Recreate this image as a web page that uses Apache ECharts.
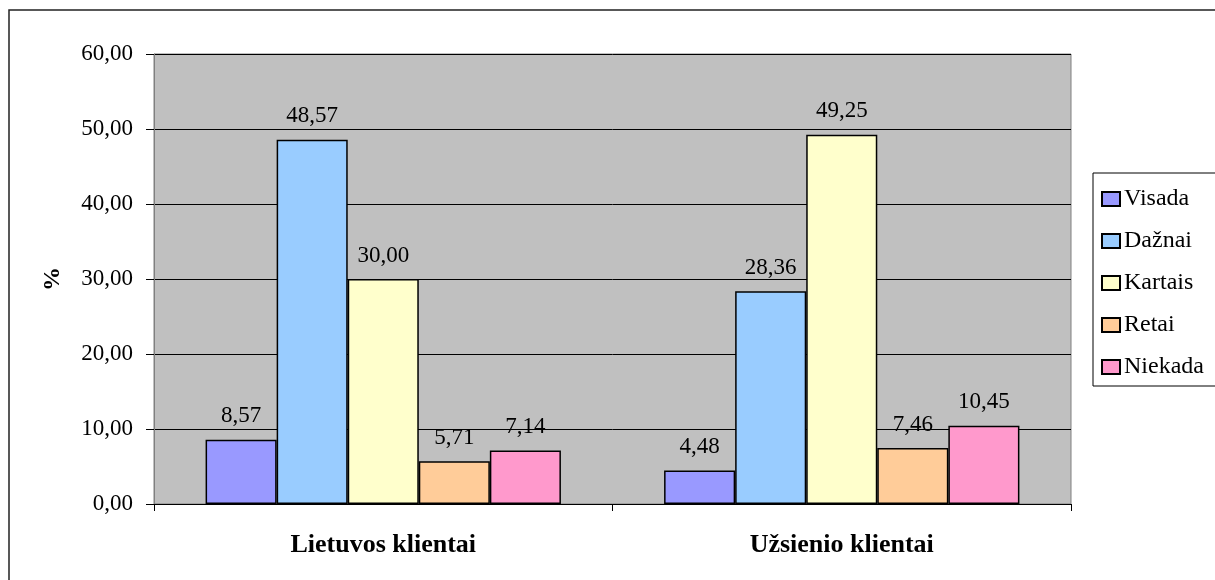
<!DOCTYPE html>
<html>
<head>
<meta charset="utf-8">
<script src="https://cdn.jsdelivr.net/npm/echarts@6/dist/echarts.min.js"></script>
<style>
  html, body { margin: 0; padding: 0; background: #fff; }
  #chart { width: 1215px; height: 580px; }
</style>
</head>
<body>
<div id="chart"></div>
<script>
// Client groups on the x axis
const categories = ['Lietuvos klientai', 'Užsienio klientai'];

// Answer options, one bar series each
const seriesNames = ['Visada', 'Dažnai', 'Kartais', 'Retai', 'Niekada'];
const visada  = [8.57, 4.48];
const daznai  = [48.57, 28.36];
const kartais = [30.00, 49.25];
const retai   = [5.71, 7.46];
const niekada = [7.14, 10.45];

const seriesColors = ['#9999FF', '#99CCFF', '#FFFFCC', '#FFCC99', '#FF99CC'];

// Y axis range, ticks every 10 %
const yMin = 0;
const yMax = 60;
const yStep = 10;

const serif = '"Liberation Serif", "DejaVu Serif", serif';
const fmt = v => Number(v).toFixed(2).replace('.', ',');

const valuesBySeries = [visada, daznai, kartais, retai, niekada];

const chart = echarts.init(document.getElementById('chart'), null, { renderer: 'canvas' });

chart.setOption({
  animation: false,
  backgroundColor: '#ffffff',
  textStyle: { fontFamily: serif },
  graphic: [{
    type: 'rect',
    shape: { x: 9, y: 10, width: 1400, height: 800 },
    style: { fill: 'none', stroke: '#222', lineWidth: 1.5 },
    silent: true,
    z: -10
  }],
  grid: {
    left: 154, right: 144, top: 54, bottom: 76,
    show: true,
    backgroundColor: '#C0C0C0',
    borderColor: '#808080',
    borderWidth: 1,
    containLabel: false
  },
  legend: {
    orient: 'vertical',
    left: 1093,
    top: 173,
    padding: [14, 40, 7, 8],
    itemGap: 18,
    itemWidth: 18,
    itemHeight: 14,
    backgroundColor: '#ffffff',
    borderColor: '#000',
    borderWidth: 1,
    borderRadius: 0,
    icon: 'rect',
    textStyle: { fontFamily: serif, fontSize: 24, color: '#000', lineHeight: 22, padding: [0, 0, 0, -1] },
    data: seriesNames
  },
  xAxis: {
    type: 'category',
    data: categories,
    axisLine: { show: true, lineStyle: { color: '#000', width: 1 } },
    axisTick: { show: true, alignWithLabel: false, length: 7, lineStyle: { color: '#000' } },
    axisLabel: {
      margin: 28,
      fontFamily: serif,
      fontSize: 26,
      fontWeight: 'bold',
      color: '#000'
    },
    splitLine: { show: false }
  },
  yAxis: {
    type: 'value',
    min: yMin,
    max: yMax,
    interval: yStep,
    name: '%',
    nameLocation: 'middle',
    nameRotate: 90,
    nameGap: 89,
    nameTextStyle: { fontFamily: serif, fontSize: 24, fontWeight: 'bold', color: '#000' },
    axisLine: { show: true, lineStyle: { color: '#808080', width: 1 } },
    axisTick: { show: true, inside: false, length: 8, lineStyle: { color: '#000' } },
    axisLabel: {
      margin: 21,
      fontFamily: serif,
      fontSize: 23,
      color: '#000',
      formatter: v => fmt(v)
    },
    splitLine: { show: true, lineStyle: { color: '#000', width: 1 } }
  },
  series: seriesNames.map((name, i) => ({
    name: name,
    type: 'bar',
    data: valuesBySeries[i],
    barGap: '0%',
    barCategoryGap: '22.5%',
    itemStyle: {
      color: seriesColors[i],
      borderColor: '#000',
      borderWidth: 1.5
    },
    label: {
      show: true,
      position: 'top',
      distance: 12,
      fontFamily: serif,
      fontSize: 23,
      color: '#000',
      formatter: p => fmt(p.value)
    }
  }))
});
</script>
</body>
</html>
